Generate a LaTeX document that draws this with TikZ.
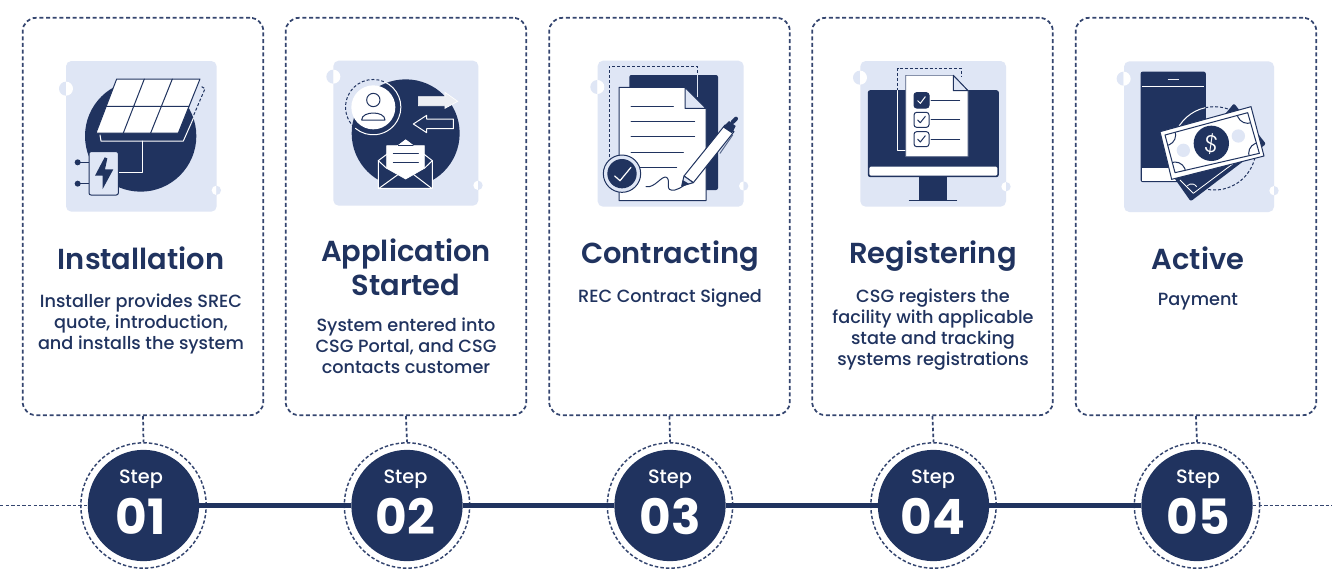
\documentclass[tikz,border=0pt]{standalone}
\usepackage{fontspec}
\setmainfont{Poppins}
\newfontfamily\semi{Poppins SemiBold}
\newfontfamily\med{Poppins Medium}
\newfontfamily\thin{Poppins Light}
\definecolor{navy}{HTML}{20335F}
\definecolor{dash}{HTML}{34456F}
\definecolor{lav}{HTML}{DFE6F5}
\definecolor{pale}{HTML}{ECEEF3}
\newcommand{\halfdot}[3]{%
  \fill[lav] (#1,#2-#3) arc[start angle=-90,end angle=-270,radius=#3] -- cycle;
  \fill[white] (#1,#2-#3) arc[start angle=-90,end angle=90,radius=#3] -- cycle;}
\newcommand{\halfdotb}[3]{%
  \fill[white] (#1,#2-#3) arc[start angle=-90,end angle=-270,radius=#3] -- cycle;
  \fill[lav] (#1,#2-#3) arc[start angle=-90,end angle=90,radius=#3] -- cycle;}
\tikzset{
  card/.style={draw=dash,line width=1.3pt,dash pattern=on 3pt off 2pt,rounded corners=10pt,minimum width=180.5pt,minimum height=298pt,inner sep=0pt},
  ring/.style={circle,draw=dash,line width=1.1pt,dash pattern=on 2.6pt off 1.6pt,minimum size=94pt,inner sep=0pt},
  stepdot/.style={circle,fill=navy,minimum size=83.5pt,inner sep=0pt},
  stem/.style={draw=dash,line width=1.3pt,dash pattern=on 2.6pt off 1.8pt},
  side/.style={draw=dash,line width=1.2pt,dash pattern=on 2.6pt off 1.6pt},
  bar/.style={draw=navy,line width=4.4pt},
  title/.style={text=navy,align=center,font=\semi\fontsize{21.7}{25.5}\selectfont,inner sep=0pt},
  body/.style={text=navy,align=center,font=\med\fontsize{13.25}{15.75}\selectfont,inner sep=0pt},
  steplbl/.style={text=white,font=\med\fontsize{14.5}{15}\selectfont,inner sep=0pt},
  stepnum/.style={text=white,font=\bfseries\fontsize{36.5}{38}\selectfont,inner sep=0pt},
  iconat/.style 2 args={shift={(#1,#2)},x=.25pt,y=-.25pt},
  nl/.style={draw=navy,line width=.75pt,line join=round,line cap=round},
  wl/.style={draw=white,line width=.75pt,line join=round,line cap=round},
  nd/.style={draw=navy,line width=.75pt,dash pattern=on 2.2pt off 1.5pt},
  wd/.style={draw=white,line width=.75pt},
}
\begin{document}
\begin{tikzpicture}[x=.75pt,y=-.75pt]
\useasboundingbox (0,0) rectangle (1332,586);
\fill[white] (0,0) rectangle (1332,586);
% cards
\foreach \n/\x in {1/143,2/406,3/669.5,4/932.5,5/1196}{
  \node[card] (c\n) at (\x,216.5) {};
}
% step circles
\foreach \n/\x/\tx/\t in {1/143.5/141/01,2/407/405.5/02,3/670/670/03,4/933.5/933/04,5/1197/1198/05}{
  \node[ring] (r\n) at (\x,505.5) {};
  \node[stepdot] (s\n) at (\x,505.5) {};
  \node[steplbl] (l\n) at (\tx,479) {Step};
  \node[stepnum] (t\n) at (\tx,516) {\t};
  \draw[stem] (c\n.south) -- (r\n.north);
}
\draw[bar] (s1) -- (s2);
\draw[bar] (s2) -- (s3);
\draw[bar] (s3) -- (s4);
\draw[bar] (s4) -- (s5);
\coordinate (L) at (0,505.5);
\coordinate (R) at (1332,505.5);
\draw[side] (L) -- (s1.west);
\draw[side] (s5.east) -- (R);
% titles
\node[title] (h1) at (141,258.5) {Installation};
\node[title] (h2) at (406,267) {Application\\Started};
\node[title] (h3) at (670,256) {Contracting};
\node[title] (h4) at (933,256) {Registering};
\node[title] (h5) at (1198,258.5) {Active};
% bodies
\node[body] (b1) at (141,324) {Installer provides SREC\\quote, introduction,\\and installs the system};
\node[body] (b2) at (406,346) {System entered into\\CSG Portal, and CSG\\contacts customer};
\node[body] (b3) at (670,298.5) {REC Contract Signed};
\node[body] (b4) at (933,330) {CSG registers the\\facility with applicable\\state and tracking\\systems registrations};
\node[body] (b5) at (1198,302) {Payment};
% ---- icon 1
\begin{scope}[iconat={20}{10}]
\fill[lav,rounded corners=4pt] (138,153) rectangle (590,605);
\halfdot{138}{236}{21}\halfdotb{589}{541}{14}
\fill[navy] (362,378) circle (167);
\draw[nd] (545,230) -- (555,236) -- (520,318);
\draw[wl] (240,375) -- (243,393) -- (490,393) -- (520,325);
\draw[wl] (368,393) -- (368,488) -- (296,488);
\filldraw[fill=white,draw=navy,line width=.75pt,line join=round] (228,369) -- (290,207) -- (540,207) -- (475,369) -- cycle;
\draw[nl] (373,207) -- (310,369) (457,207) -- (392,369) (259,289) -- (507,289);
\draw[nl] (173,457) -- (207,457) (173,521) -- (207,521);
\fill[navy] (173,457) circle (9) (173,521) circle (9);
\filldraw[fill=lav,draw=navy,line width=.75pt,rounded corners=1.5pt] (207,425) rectangle (295,555);
\fill[navy] (254,442) -- (225,497) -- (248,497) -- (248,537) -- (280,478) -- (255,478) -- (262,445) -- cycle;
\end{scope}
% ---- icon 2
\begin{scope}[iconat={285}{40}]
\fill[lav,rounded corners=4pt] (145,62) rectangle (580,497);
\halfdot{145}{110}{21}\halfdotb{579}{436}{14}
\fill[navy] (362,280) circle (162);
\draw[wl] (297,125) arc[start angle=-67,end angle=130,radius=83];
\draw[nd] (297,125) arc[start angle=-67,end angle=-230,radius=83];
\fill[white] (265,202) circle (66);
\draw[nl] (265,180) circle (20);
\draw[nl] (230,240) .. controls (230,212) and (300,212) .. (300,240) -- cycle;
\filldraw[fill=pale,draw=white,line width=.5pt] (400,170) -- (480,170) -- (480,157) -- (518,184) -- (480,205) -- (480,197) -- (400,197) -- cycle;
\filldraw[fill=navy,draw=white,line width=.75pt,line join=round] (505,237) -- (425,237) -- (425,226) -- (385,252) -- (425,278) -- (425,266) -- (505,266) -- cycle;
\filldraw[fill=navy,draw=white,line width=.75pt,line join=round] (280,362) -- (362,300) -- (442,362) -- (442,445) -- (280,445) -- cycle;
\filldraw[fill=white,draw=white,line width=.5pt,line join=round] (340,317) -- (362,300) -- (385,317) -- (418,317) -- (418,385) -- (362,417) -- (305,385) -- (305,317) -- cycle;
\draw[wl] (280,362) -- (305,385) (442,362) -- (418,385) (282,445) -- (340,403) (440,445) -- (385,403);
\draw[nl] (325,340) -- (400,340) (325,368) -- (400,368);
\draw[nl,line width=.4pt] (340,317) -- (385,317);
\end{scope}
% ---- icon 3
\begin{scope}[iconat={550}{40}]
\fill[lav,rounded corners=4pt] (143,62) rectangle (581,500);
\halfdot{142}{141}{21}\halfdotb{581}{438}{14}
\fill[navy,rounded corners=1.5pt] (238,105) rectangle (504,450);
\draw[nd] (178,350) -- (178,78) -- (441,78) -- (441,105);
\draw[wl,draw=lav] (441,105) -- (441,170);
\filldraw[fill=white,draw=navy,line width=.75pt,line join=round] (207,142) -- (405,142) -- (468,205) -- (468,482) -- (207,482) -- cycle;
\filldraw[fill=lav,draw=navy,line width=.75pt,line join=round] (405,142) -- (405,205) -- (468,205) -- cycle;
\draw[nl] (243,198) -- (370,198) (243,244) -- (434,244) (243,290) -- (434,290) (243,336) -- (400,336) (243,381) -- (380,381);
\filldraw[fill=lav,draw=navy,line width=.75pt] (216,401) circle (56);
\fill[navy] (216,401) circle (44);
\draw[white,line width=.9pt,line cap=round,line join=round] (194,408) -- (210,422) -- (243,382);
\draw[nl] (288,440) .. controls (315,445) and (335,405) .. (350,412) .. controls (365,425) and (340,455) .. (375,450) .. controls (385,448) and (392,442) .. (400,438);
\draw[nl,draw=navy!70!lav] (548,285) -- (510,340);
\filldraw[fill=white,draw=navy,line width=.75pt,line join=round] (402,408) -- (525,255) -- (552,275) -- (430,428) -- cycle;
\filldraw[fill=lav,draw=navy,line width=.75pt,line join=round] (402,408) -- (395,438) -- (430,428) -- cycle;
\fill[navy] (395,440) -- (398,420) -- (418,432) -- cycle;
\fill[navy] (519,262) -- (537,243) -- (557,258) -- (546,280) -- cycle;
\draw[navy,line width=3pt,line cap=round] (548,246) -- (558,236);
\end{scope}
% ---- icon 4
\begin{scope}[iconat={815}{40}]
\fill[lav,rounded corners=4pt] (136,63) rectangle (573,500);
\halfdot{135}{113}{21}\halfdotb{573}{440}{14}
\filldraw[fill=navy,draw=navy,line width=.75pt,rounded corners=1.5pt] (160,152) rectangle (550,410);
\fill[white,rounded corners=1pt] (163,380) rectangle (547,407);
\fill[navy] (312,410) rectangle (396,480);
\draw[nl] (283,480) -- (425,480);
\draw[nd] (248,152) -- (248,85) -- (440,85) -- (440,112);
\draw[wl] (248,152) -- (248,330) -- (272,330);
\filldraw[fill=white,draw=navy!80!white,line width=.5pt,line join=round] (272,106) -- (415,106) -- (459,152) -- (459,350) -- (272,350) -- cycle;
\filldraw[fill=lav,draw=navy,line width=.75pt,line join=round] (415,106) -- (415,152) -- (459,152) -- cycle;
\filldraw[fill=navy,draw=navy,line width=.75pt,rounded corners=2pt] (297,158) rectangle (342,204);
\filldraw[fill=white,draw=navy,line width=.75pt,rounded corners=2pt] (297,217) rectangle (342,262);
\filldraw[fill=white,draw=navy,line width=.75pt,rounded corners=2pt] (297,275) rectangle (342,320);
\draw[white,line width=.75pt,line cap=round,line join=round] (308,182) -- (316,190) -- (331,170);
\draw[nl] (308,240) -- (316,248) -- (331,229) (308,298) -- (316,306) -- (331,287);
\draw[nl] (348,181) -- (434,181) (348,239) -- (434,239) (348,297) -- (434,297);
\end{scope}
% ---- icon 5
\begin{scope}[iconat={1080}{40}]
\fill[lav,rounded corners=4pt] (132,64) rectangle (582,516);
\halfdot{131}{116}{21}\halfdotb{582}{452}{14}
\filldraw[fill=navy,draw=navy,line width=.75pt,rounded corners=1.5pt] (183,96) rectangle (376,425);
\fill[white] (187,385) rectangle (372,422);
\draw[pale,line width=.75pt] (263,118) -- (297,118);
\draw[white,line width=.75pt] (186,140) -- (373,140);
\draw[nd] (376,203) arc[start angle=-102.4,end angle=110,radius=125];
\draw[wd] (376,203) arc[start angle=-102.4,end angle=-160,radius=125];
\fill[navy,rounded corners=1.5pt] (462,190) -- (558,312) -- (332,484) -- (280,410) -- cycle;
\draw[white,line width=.6pt] (340,460) -- (530,318);
\draw[white,line width=.6pt] (300,420) -- (340,460);
\draw[white,line width=.6pt] (322,437) arc[start angle=-135,end angle=-30,radius=18];
\filldraw[fill=white,draw=navy,line width=.75pt,line join=round] (240,275) -- (513,200) -- (552,348) -- (275,418) -- cycle;
\begin{scope}
\clip (255,285) -- (503,218) -- (538,340) -- (285,398) -- cycle;
\draw[nl] (255,285) circle (32) (503,218) circle (32) (538,340) circle (32) (285,398) circle (32);
\end{scope}
\draw[nl] (255,285) -- (503,218) -- (538,340) -- (285,398) -- cycle;
\fill[lav] (310,331) circle (20) (475,288) circle (20);
\fill[navy] (394,310) circle (53);
\node[text=white,inner sep=0pt,font=\thin\fontsize{18}{18}\selectfont,rotate=-8] (dollar) at (394,311) {\$};
\end{scope}
\end{tikzpicture}
\end{document}
